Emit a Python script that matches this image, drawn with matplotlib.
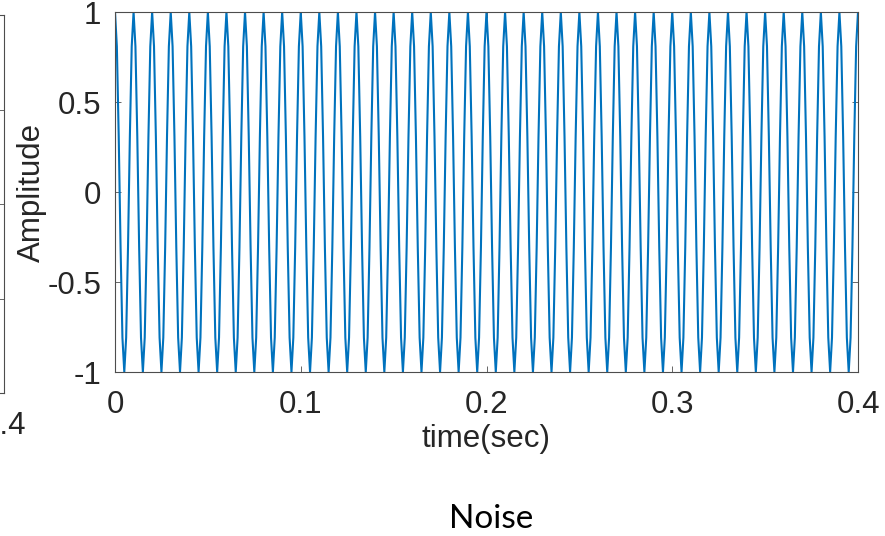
import numpy as np
import matplotlib
matplotlib.use("Agg")
import matplotlib.pyplot as plt

one_cycle = [1.0, 0.809, 0.309, -0.309, -0.809, -1.0, -0.809, -0.309, 0.309, 0.809]
n_cycles = 40
dt = 0.001

x_ticks = [0, 0.1, 0.2, 0.3, 0.4]
x_tick_labels = ["0", "0.1", "0.2", "0.3", "0.4"]
y_ticks = [-1, -0.5, 0, 0.5, 1]
y_tick_labels = ["-1", "-0.5", "0", "0.5", "1"]

y = np.tile(one_cycle, n_cycles)
y = np.append(y, one_cycle[0])
t = np.arange(len(y)) * dt

W, H = 885, 536
fig = plt.figure(figsize=(W / 100, H / 100), dpi=100)
plt.rcParams['font.family'] = ['Liberation Sans', 'DejaVu Sans']

blue = '#0072BD'
edge = '#4d4d4d'
txt = '#262626'
fs = 22.5


def style_axes(ax):
    for s in ax.spines.values():
        s.set_color(edge)
        s.set_linewidth(0.8)
    ax.tick_params(direction='in', length=4, width=0.6, color=edge,
                   top=True, right=True, labelsize=fs, labelcolor=txt)
    ax.tick_params(axis='x', pad=13)
    ax.tick_params(axis='y', pad=10)


# remnant of the neighbouring plot, cut off at the left edge
ax0 = fig.add_axes([(4 - 700) / W, 1 - 393 / H, 700 / W, (393 - 15) / H])
ax0.set_xlim(0, 0.4)
ax0.set_ylim(-1, 1)
ax0.set_xticks([0.4])
ax0.set_xticklabels(["0.4"])
ax0.set_yticks([-0.5, 0, 0.5])
ax0.set_yticklabels([])
style_axes(ax0)

# main plot
ax = fig.add_axes([115 / W, 1 - 372 / H, (858 - 115) / W, (372 - 12) / H])
ax.plot(t, y, color=blue, linewidth=1.5)
ax.set_xlim(0, 0.4)
ax.set_ylim(-1, 1)
ax.set_xticks(x_ticks)
ax.set_xticklabels(x_tick_labels)
ax.set_yticks(y_ticks)
ax.set_yticklabels(y_tick_labels)
style_axes(ax)
ax.set_xlabel("time(sec)", fontsize=fs, color=txt, labelpad=3)
ax.set_ylabel("Amplitude", fontsize=fs, color=txt, labelpad=0)

fig.text(491 / W, 1 - 519 / H, "Noise", fontsize=24, family=['Lato', 'DejaVu Sans'],
         ha='center', va='center', color='black')

fig.savefig("out.png", dpi=100)
